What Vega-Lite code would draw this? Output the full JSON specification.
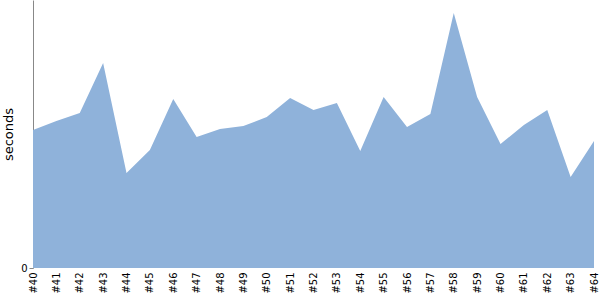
{
  "$schema": "https://vega.github.io/schema/vega-lite/v6.json",
  "width": 561,
  "height": 268,
  "autosize": {"type": "none"},
  "padding": {"left": 33, "top": 0, "right": 6, "bottom": 32},
  "background": "white",
  "config": {"view": {"stroke": null}, "font": "DejaVu Sans"},
  "data": {
    "values": [
      {"build": 40, "seconds": 13.8},
      {"build": 41, "seconds": 14.7},
      {"build": 42, "seconds": 15.5},
      {"build": 43, "seconds": 20.5},
      {"build": 44, "seconds": 9.5},
      {"build": 45, "seconds": 11.8},
      {"build": 46, "seconds": 16.9},
      {"build": 47, "seconds": 13.1},
      {"build": 48, "seconds": 13.9},
      {"build": 49, "seconds": 14.2},
      {"build": 50, "seconds": 15.1},
      {"build": 51, "seconds": 17.0},
      {"build": 52, "seconds": 15.8},
      {"build": 53, "seconds": 16.5},
      {"build": 54, "seconds": 11.7},
      {"build": 55, "seconds": 17.1},
      {"build": 56, "seconds": 14.1},
      {"build": 57, "seconds": 15.4},
      {"build": 58, "seconds": 25.5},
      {"build": 59, "seconds": 17.1},
      {"build": 60, "seconds": 12.4},
      {"build": 61, "seconds": 14.3},
      {"build": 62, "seconds": 15.8},
      {"build": 63, "seconds": 9.1},
      {"build": 64, "seconds": 12.7}
    ]
  },
  "mark": {"type": "area", "color": "#8fb2da", "opacity": 1},
  "encoding": {
    "x": {
      "field": "build",
      "type": "quantitative",
      "scale": {"domain": [40, 64], "nice": false, "zero": false},
      "axis": {
        "title": null,
        "values": [40,41,42,43,44,45,46,47,48,49,50,51,52,53,54,55,56,57,58,59,60,61,62,63,64],
        "labelExpr": "'#' + datum.value",
        "labelAngle": 270,
        "labelAlign": "right",
        "labelBaseline": "middle",
        "labelFontSize": 10,
        "labelColor": "#000",
        "labelPadding": 4,
        "labelOverlap": false,
        "labelFlush": false,
        "ticks": false,
        "domain": false,
        "grid": false
      }
    },
    "y": {
      "field": "seconds",
      "type": "quantitative",
      "scale": {"domain": [0, 26.8], "nice": false},
      "axis": {
        "title": "seconds",
        "titleFontSize": 13,
        "titleFontWeight": "normal",
        "titleColor": "#000",
        "titlePadding": 5,
        "values": [0],
        "labelFontSize": 10,
        "labelColor": "#000",
        "labelPadding": 2,
        "tickSize": 4,
        "tickColor": "#888",
        "domainColor": "#888",
        "grid": false
      }
    }
  }
}
